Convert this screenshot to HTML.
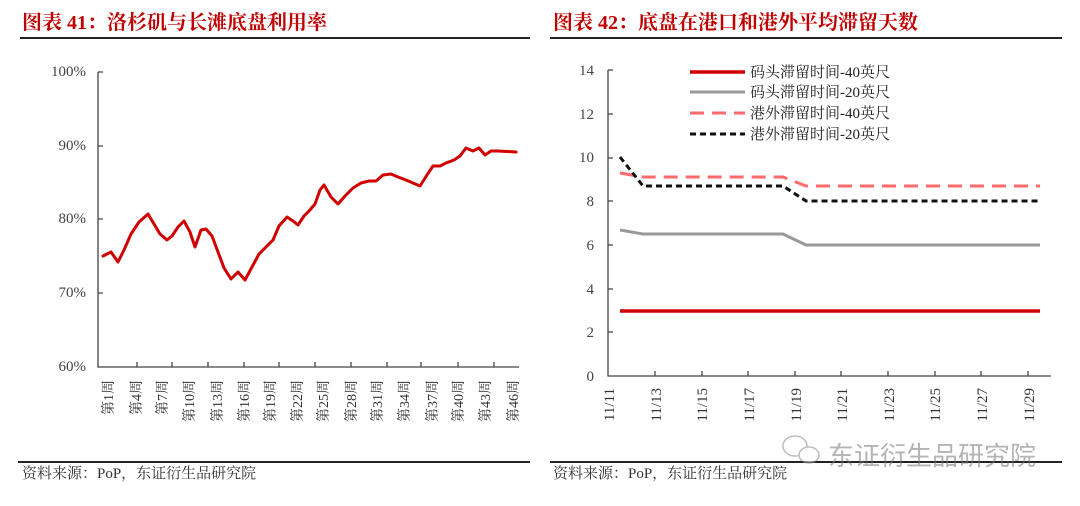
<!DOCTYPE html><html><head><meta charset="utf-8"><style>
body{margin:0;background:#fff;width:1080px;height:501px;overflow:hidden;font-family:"Liberation Serif","Noto Serif CJK SC",serif}
</style></head><body>
<svg width="1080" height="501" xmlns="http://www.w3.org/2000/svg" font-family="Liberation Serif, Noto Serif CJK SC, serif">
<text x="22" y="29" fill="#c00000" font-size="20" font-weight="bold">图表 41：洛杉矶与长滩底盘利用率</text>
<text x="553" y="29" fill="#c00000" font-size="20" font-weight="bold">图表 42：底盘在港口和港外平均滞留天数</text>
<line x1="20" y1="38" x2="530" y2="38" stroke="#222" stroke-width="2"/>
<line x1="550" y1="38" x2="1062" y2="38" stroke="#222" stroke-width="2"/>
<line x1="18" y1="462" x2="530" y2="462" stroke="#222" stroke-width="2"/>
<line x1="550" y1="462" x2="1062" y2="462" stroke="#222" stroke-width="2"/>
<text x="22" y="478" font-size="15" fill="#333">资料来源：PoP，东证衍生品研究院</text>
<text x="553" y="478" font-size="15" fill="#333">资料来源：PoP，东证衍生品研究院</text>
<g font-size="15" fill="#444" text-anchor="end">
<text x="86" y="76">100%</text><text x="86" y="150">90%</text><text x="86" y="223">80%</text><text x="86" y="297">70%</text><text x="86" y="371">60%</text></g>
<g stroke="#444" stroke-width="1.3" fill="none">
<path d="M98 72V367H519"/>
<path d="M98 72h5M98 146h5M98 219h5M98 293h5"/>
<path d="M137 367v-5M172 367v-5M208 367v-5M244 367v-5M279 367v-5M315 367v-5M351 367v-5M387 367v-5M421 367v-5M458 367v-5M494 367v-5"/>
</g>
<g font-size="14" fill="#333" text-anchor="end">
<text transform="translate(113,380) rotate(-90)">第1周</text><text transform="translate(141,380) rotate(-90)">第4周</text><text transform="translate(167,380) rotate(-90)">第7周</text>
<text transform="translate(194,380) rotate(-90)">第10周</text><text transform="translate(222,380) rotate(-90)">第13周</text><text transform="translate(249,380) rotate(-90)">第16周</text>
<text transform="translate(275,380) rotate(-90)">第19周</text><text transform="translate(302,380) rotate(-90)">第22周</text><text transform="translate(328,380) rotate(-90)">第25周</text>
<text transform="translate(356,380) rotate(-90)">第28周</text><text transform="translate(382,380) rotate(-90)">第31周</text><text transform="translate(409,380) rotate(-90)">第34周</text>
<text transform="translate(437,380) rotate(-90)">第37周</text><text transform="translate(463,380) rotate(-90)">第40周</text><text transform="translate(490,380) rotate(-90)">第43周</text>
<text transform="translate(518,380) rotate(-90)">第46周</text></g>
<path fill="none" stroke="#d00000" stroke-width="3" stroke-linejoin="round" stroke-linecap="round" d="M103 256 L111 252 L118 262 L124 250 L131 234 L139 222 L148 214 L154 224 L160 234 L167 240 L172 236 L178 227 L184 221 L190 232 L195 247 L201 230 L206 229 L212 236 L218 252 L224 268 L231 279 L238 272 L245 280 L252 267 L259 254 L266 247 L273 240 L279 226 L287 217 L293 221 L298 225 L304 216 L309 211 L315 204 L320 190 L324 185 L331 197 L338 204 L345 196 L353 188 L361 183 L369 181 L376 181 L383 175 L391 174 L398 177 L406 180 L413 183 L420 186 L427 175 L433 166 L440 166 L446 163 L454 160 L460 156 L466 148 L473 151 L479 148 L485 155 L491 151 L498 151 L516 152"/>
<g font-size="15" fill="#444" text-anchor="end">
<text x="594" y="75">14</text><text x="594" y="119">12</text><text x="594" y="162">10</text><text x="594" y="206">8</text><text x="594" y="250">6</text><text x="594" y="294">4</text><text x="594" y="337">2</text><text x="594" y="381">0</text></g>
<g stroke="#444" stroke-width="1.3" fill="none">
<path d="M608 70V376H1051"/>
<path d="M608 70h5M608 114h5M608 158h5M608 201h5M608 245h5M608 289h5M608 332h5"/>
<path d="M655 376v-5M702 376v-5M748 376v-5M795 376v-5M841 376v-5M888 376v-5M935 376v-5M981 376v-5M1028 376v-5"/>
</g>
<g font-size="15" fill="#333" text-anchor="end">
<text transform="translate(614,388) rotate(-90)">11/11</text>
<text transform="translate(661,388) rotate(-90)">11/13</text>
<text transform="translate(707,388) rotate(-90)">11/15</text>
<text transform="translate(754,388) rotate(-90)">11/17</text>
<text transform="translate(801,388) rotate(-90)">11/19</text>
<text transform="translate(847,388) rotate(-90)">11/21</text>
<text transform="translate(894,388) rotate(-90)">11/23</text>
<text transform="translate(940,388) rotate(-90)">11/25</text>
<text transform="translate(987,388) rotate(-90)">11/27</text>
<text transform="translate(1034,388) rotate(-90)">11/29</text></g>
<path d="M620 311H1040" stroke="#d00000" stroke-width="3.5" fill="none"/>
<path d="M620 230L643 234L783 234L806 245L1040 245" stroke="#999" stroke-width="3" fill="none"/>
<path d="M620 173L643 177L783 177L806 186L1040 186" stroke="#ff6b6b" stroke-width="3" stroke-dasharray="14,8" fill="none"/>
<path d="M620 157L643 186L783 186L806 201L1040 201" stroke="#111" stroke-width="3" stroke-dasharray="6,4" fill="none"/>
<g font-size="15" fill="#222">
<line x1="690" y1="72" x2="745" y2="72" stroke="#d00000" stroke-width="3.5"/><text x="750" y="77">码头滞留时间-40英尺</text>
<line x1="690" y1="92" x2="745" y2="92" stroke="#999" stroke-width="3"/><text x="750" y="97">码头滞留时间-20英尺</text>
<line x1="690" y1="113" x2="745" y2="113" stroke="#ff6b6b" stroke-width="3" stroke-dasharray="14,8"/><text x="750" y="118">港外滞留时间-40英尺</text>
<line x1="690" y1="134" x2="745" y2="134" stroke="#111" stroke-width="3" stroke-dasharray="6,4"/><text x="750" y="139">港外滞留时间-20英尺</text>
</g>
<g opacity="0.55">
<ellipse cx="795" cy="446" rx="12" ry="10" fill="none" stroke="#888" stroke-width="1.5"/>
<ellipse cx="809" cy="455" rx="10" ry="8" fill="#fff" stroke="#888" stroke-width="1.5"/>
<text x="828" y="465" font-size="26" fill="#777" font-family="Liberation Sans, Noto Sans CJK SC, sans-serif">东证衍生品研究院</text>
</g>
</svg>
</body></html>
